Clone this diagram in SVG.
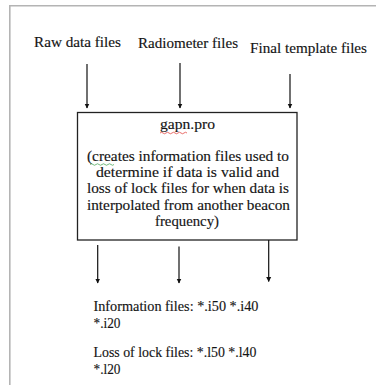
<svg xmlns="http://www.w3.org/2000/svg" width="376" height="385" viewBox="0 0 376 385">
  <style>
    .lbl { font-family: "Liberation Serif", "DejaVu Serif", serif; font-size: 15px; fill: #141414; stroke: #141414; stroke-width: 0.15; }
    .wire { stroke: #111; stroke-width: 1.2; fill: none; }
    .frame { stroke: #b4b4b4; stroke-width: 1.6; fill: none; }
    .box { stroke: #222; stroke-width: 1.3; fill: #fff; }
  </style>
  <defs>
    <marker id="head" viewBox="0 0 10 10" refX="9" refY="5" markerWidth="5" markerHeight="6" markerUnits="userSpaceOnUse" orient="auto">
      <path d="M0,0 L10,5 L0,10 Z" fill="#111"/>
    </marker>
  </defs>

  <rect width="376" height="385" fill="#fff"/>
  <!-- page frame -->
  <path class="frame" d="M376,5.8 H9.8 V385"/>

  <!-- input labels -->
  <g id="raw-data">
    <text class="lbl" x="34" y="47" textLength="87" lengthAdjust="spacingAndGlyphs">Raw data files</text>
  </g>
  <g id="radiometer">
    <text class="lbl" x="138" y="48" textLength="100" lengthAdjust="spacingAndGlyphs">Radiometer files</text>
  </g>
  <g id="final-template">
    <text class="lbl" x="250" y="53" textLength="117" lengthAdjust="spacingAndGlyphs">Final template files</text>
  </g>

  <!-- processing step -->
  <g id="gapn">
    <rect class="box" x="77.5" y="112.5" width="219.5" height="127.5"/>
    <text class="lbl" x="187.5" y="129" text-anchor="middle" textLength="55" lengthAdjust="spacingAndGlyphs">gapn.pro</text>
    <path d="M160,133 q1.5,-1.5 3,0 t3,0 t3,0 t3,0 t3,0 t3,0 t3,0 t3,0 t3,0" stroke="#e0302c" stroke-width="0.7" fill="none"/>
    <text class="lbl" x="87" y="161" textLength="202" lengthAdjust="spacingAndGlyphs">(creates information files used to</text>
    <path d="M90,164.5 q1.5,-1.5 3,0 t3,0 t3,0 t3,0 t3,0 t3,0 t3,0 t3,0" stroke="#3aa04a" stroke-width="0.7" fill="none"/>
    <text class="lbl" x="96" y="177" textLength="183" lengthAdjust="spacingAndGlyphs">determine if data is valid and</text>
    <text class="lbl" x="87" y="193" textLength="202" lengthAdjust="spacingAndGlyphs">loss of lock files for when data is</text>
    <text class="lbl" x="87" y="209.5" textLength="203" lengthAdjust="spacingAndGlyphs">interpolated from another beacon</text>
    <text class="lbl" x="155" y="226" textLength="64" lengthAdjust="spacingAndGlyphs">frequency)</text>
  </g>

  <!-- output labels -->
  <g id="info-files">
    <text class="lbl" x="93.5" y="311" textLength="165" lengthAdjust="spacingAndGlyphs">Information files: *.i50 *.i40</text>
    <text class="lbl" x="93.5" y="327.5" textLength="27" lengthAdjust="spacingAndGlyphs">*.i20</text>
  </g>
  <g id="lock-files">
    <text class="lbl" x="93.5" y="357" textLength="163" lengthAdjust="spacingAndGlyphs">Loss of lock files: *.l50 *.l40</text>
    <text class="lbl" x="93.5" y="373.5" textLength="27" lengthAdjust="spacingAndGlyphs">*.l20</text>
  </g>

  <!-- connectors -->
  <g id="connectors">
    <line class="wire" x1="87" y1="64" x2="87" y2="108" marker-end="url(#head)"/>
    <line class="wire" x1="180" y1="63" x2="180" y2="108" marker-end="url(#head)"/>
    <line class="wire" x1="290" y1="74" x2="290" y2="108" marker-end="url(#head)"/>
    <line class="wire" x1="97.7" y1="245" x2="97.7" y2="283" marker-end="url(#head)"/>
    <line class="wire" x1="179" y1="246.5" x2="179" y2="283" marker-end="url(#head)"/>
    <line class="wire" x1="268.7" y1="240" x2="268.7" y2="281.5" marker-end="url(#head)"/>
  </g>
</svg>
